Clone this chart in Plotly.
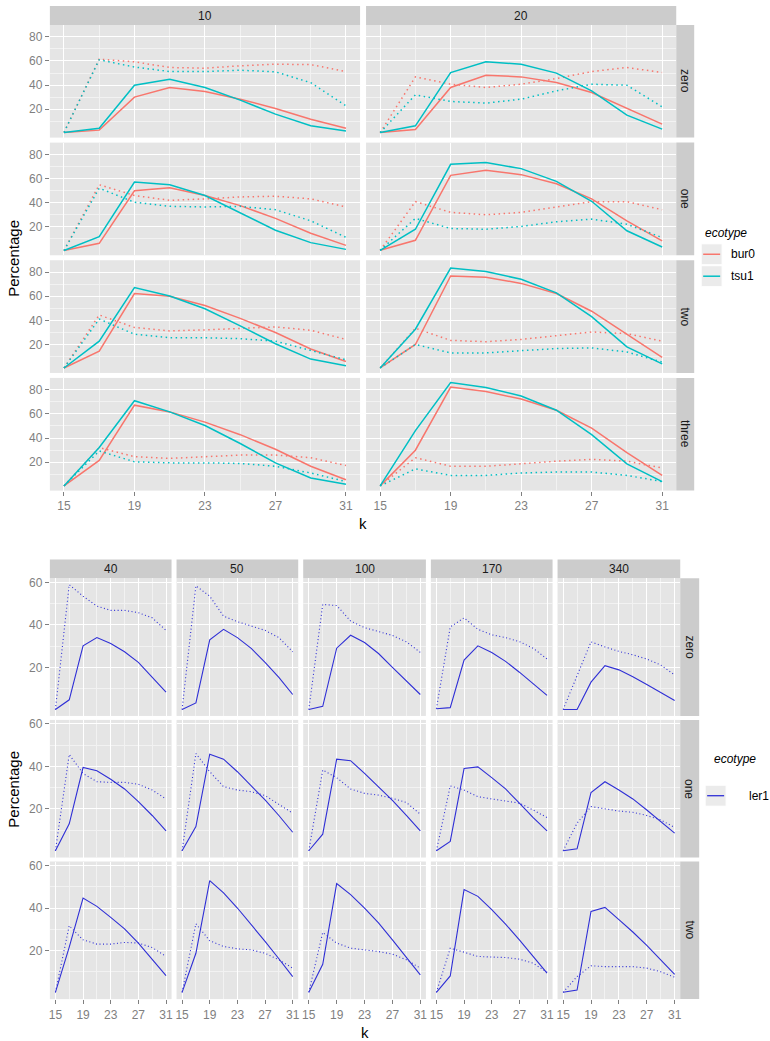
import plotly.graph_objects as go

W, H = 770, 1041

# ---------------- data ----------------
k_vals = [15, 17, 19, 21, 23, 25, 27, 29, 31]
x_ticks = [15, 19, 23, 27, 31]
x_minor = [17, 21, 25, 29]

top_cols = ["10", "20"]
top_rows = ["zero", "one", "two", "three"]
top_y_ticks = [20, 40, 60, 80]
top_y_minor = [10, 30, 50, 70, 90]

bot_cols = ["40", "50", "100", "170", "340"]
bot_rows = ["zero", "one", "two"]
bot_y_ticks = [20, 40, 60]
bot_y_minor = [10, 30, 50]

# top chart (rows: zero, one, two, three)
bur0_solid_10 = [
    [0.6, 2.6, 30.0, 38.0, 34.7, 28.3, 20.6, 11.7, 4.2],
    [0.3, 6.3, 49.9, 52.4, 46.0, 37.6, 27.0, 14.7, 4.6],
    [0.5, 14.4, 62.3, 60.0, 52.4, 41.7, 29.9, 16.3, 5.9],
    [0.3, 21.4, 67.3, 61.7, 53.2, 42.8, 30.7, 16.6, 5.4],
]
tsu1_solid_10 = [
    [0.6, 4.2, 39.9, 44.9, 38.0, 27.5, 15.9, 6.2, 1.8],
    [0.3, 11.9, 57.1, 54.9, 46.0, 31.4, 17.2, 6.9, 1.3],
    [0.5, 22.8, 67.3, 60.3, 49.6, 35.5, 20.6, 7.9, 2.3],
    [0.3, 32.1, 71.0, 61.7, 50.4, 35.5, 19.4, 6.8, 1.7],
]
bur0_dot_10 = [
    [0.6, 61.5, 59.3, 54.6, 54.0, 56.0, 57.3, 57.0, 51.2],
    [0.3, 54.9, 46.0, 42.0, 43.2, 44.8, 45.4, 43.2, 36.5],
    [0.5, 44.5, 34.1, 31.3, 32.1, 33.5, 34.6, 31.8, 24.2],
    [0.3, 32.1, 24.5, 23.1, 24.5, 25.9, 25.9, 23.7, 17.2],
]
tsu1_dot_10 = [
    [0.6, 61.0, 55.0, 51.2, 51.2, 52.3, 51.0, 42.0, 22.8],
    [0.3, 52.1, 40.4, 37.0, 36.5, 37.0, 34.2, 25.0, 11.3],
    [0.5, 41.1, 28.5, 25.6, 25.6, 24.8, 22.8, 14.9, 7.3],
    [0.3, 29.3, 20.3, 19.4, 19.4, 18.9, 16.6, 11.0, 3.9],
]
bur0_solid_20 = [
    [0.6, 3.1, 38.0, 48.2, 46.8, 42.1, 33.8, 20.6, 7.6],
    [0.5, 8.8, 62.7, 66.9, 63.3, 55.7, 43.2, 25.0, 8.3],
    [0.5, 20.0, 76.9, 75.8, 70.7, 62.3, 47.6, 28.5, 9.3],
    [0.3, 29.9, 82.3, 78.6, 72.4, 63.1, 48.2, 27.9, 9.0],
]
tsu1_solid_20 = [
    [0.6, 6.2, 50.4, 59.3, 57.3, 49.9, 35.2, 15.0, 3.4],
    [0.5, 18.0, 71.9, 73.3, 68.3, 57.7, 41.2, 16.7, 3.3],
    [0.5, 32.7, 83.4, 80.6, 74.1, 62.8, 43.1, 18.0, 3.9],
    [0.3, 46.2, 86.0, 82.0, 74.9, 63.1, 42.8, 18.6, 3.9],
]
bur0_dot_20 = [
    [0.6, 46.8, 40.7, 38.0, 40.7, 45.4, 51.2, 54.6, 50.4],
    [0.5, 40.9, 32.0, 30.0, 32.0, 36.7, 40.9, 40.9, 34.2],
    [0.5, 33.5, 23.4, 22.3, 24.2, 27.6, 30.4, 29.0, 22.8],
    [0.3, 23.7, 16.6, 16.6, 18.6, 20.8, 22.3, 20.8, 15.2],
]
tsu1_dot_20 = [
    [0.6, 31.9, 26.4, 25.0, 28.3, 35.2, 40.7, 39.9, 21.9],
    [0.5, 27.0, 18.6, 18.0, 20.3, 24.2, 26.4, 22.2, 11.1],
    [0.5, 20.0, 13.0, 13.0, 14.9, 16.6, 17.2, 13.8, 5.4],
    [0.3, 14.4, 9.0, 9.0, 11.0, 11.8, 11.8, 9.0, 3.9],
]

# bottom chart (rows: zero, one, two)
ler1_solid_40 = [
    [0.1, 4.7, 30.1, 34.0, 31.2, 27.3, 22.3, 15.3, 8.3],
    [0.3, 13.0, 39.5, 38.0, 34.0, 29.4, 23.4, 16.9, 9.7],
    [0.3, 21.6, 44.7, 40.8, 35.6, 30.2, 23.5, 15.6, 8.2],
]
ler1_dot_40 = [
    [0.1, 58.9, 53.5, 48.8, 46.8, 46.8, 45.7, 43.3, 37.4],
    [0.3, 45.6, 36.7, 32.8, 32.5, 32.5, 31.6, 28.9, 24.7],
    [0.3, 31.7, 25.0, 23.0, 23.0, 23.8, 23.5, 21.4, 17.2],
]
ler1_solid_50 = [
    [0.1, 3.2, 32.9, 37.9, 34.0, 28.9, 22.3, 15.3, 7.2],
    [0.3, 11.7, 45.8, 43.4, 37.5, 30.9, 24.2, 16.9, 9.0],
    [0.3, 18.7, 52.9, 47.1, 40.0, 32.4, 24.3, 16.1, 7.7],
]
ler1_dot_50 = [
    [0.1, 58.4, 53.5, 44.1, 41.5, 39.5, 37.4, 34.0, 27.3],
    [0.3, 46.1, 37.5, 30.5, 28.9, 28.1, 26.3, 22.2, 18.0],
    [0.3, 32.6, 24.6, 21.9, 20.8, 20.3, 18.7, 15.6, 11.7],
]
ler1_solid_100 = [
    [0.1, 1.6, 29.0, 35.1, 31.7, 26.5, 20.0, 13.7, 7.2],
    [0.3, 8.1, 43.4, 42.7, 36.7, 30.5, 24.0, 17.0, 9.7],
    [0.3, 13.5, 51.5, 46.3, 40.0, 33.0, 25.0, 16.7, 8.5],
]
ler1_dot_100 = [
    [0.1, 49.6, 49.1, 41.8, 38.7, 36.8, 35.0, 32.0, 27.0],
    [0.3, 38.3, 34.7, 29.4, 27.3, 26.5, 25.0, 23.0, 17.5],
    [0.3, 28.5, 23.5, 21.1, 20.3, 19.5, 18.3, 15.6, 11.7],
]
ler1_solid_170 = [
    [0.5, 1.0, 23.4, 30.1, 27.0, 22.8, 17.7, 12.2, 6.8],
    [0.3, 4.7, 39.0, 39.8, 34.7, 29.4, 22.7, 15.9, 9.7],
    [0.3, 8.0, 48.7, 45.5, 39.2, 32.4, 25.0, 17.2, 9.3],
]
ler1_dot_170 = [
    [0.5, 39.0, 43.3, 37.9, 35.3, 34.0, 32.1, 29.0, 23.9],
    [0.3, 30.8, 28.9, 25.8, 24.7, 23.8, 22.7, 19.5, 15.9],
    [0.3, 21.1, 19.2, 17.2, 16.9, 16.7, 15.9, 14.0, 9.8],
]
ler1_solid_340 = [
    [0.1, 0.1, 13.0, 20.8, 18.8, 15.6, 11.9, 8.3, 4.4],
    [0.3, 1.2, 27.7, 32.8, 28.9, 24.7, 19.5, 14.0, 8.6],
    [0.3, 1.4, 38.4, 40.3, 34.5, 28.7, 22.4, 15.6, 8.8],
]
ler1_dot_340 = [
    [0.1, 16.0, 32.0, 29.6, 27.5, 25.9, 23.9, 21.1, 16.4],
    [0.3, 13.3, 21.1, 20.0, 19.0, 18.4, 16.9, 14.8, 11.3],
    [0.3, 7.7, 12.8, 12.4, 12.4, 12.4, 11.7, 10.0, 7.4],
]

top_series = {
    "10": [("bur0", bur0_solid_10, "solid"), ("bur0", bur0_dot_10, "dot"),
           ("tsu1", tsu1_solid_10, "solid"), ("tsu1", tsu1_dot_10, "dot")],
    "20": [("bur0", bur0_solid_20, "solid"), ("bur0", bur0_dot_20, "dot"),
           ("tsu1", tsu1_solid_20, "solid"), ("tsu1", tsu1_dot_20, "dot")],
}
bot_series = {
    "40": [(ler1_solid_40, "solid"), (ler1_dot_40, "dot")],
    "50": [(ler1_solid_50, "solid"), (ler1_dot_50, "dot")],
    "100": [(ler1_solid_100, "solid"), (ler1_dot_100, "dot")],
    "170": [(ler1_solid_170, "solid"), (ler1_dot_170, "dot")],
    "340": [(ler1_solid_340, "solid"), (ler1_dot_340, "dot")],
}

# ---------------- styling ----------------
COLORS = {"bur0": "#F8766D", "tsu1": "#00BFC4", "ler1": "#2F2FD6"}
PANEL_BG = "#E5E5E5"
STRIP_BG = "#CCCCCC"
TICK_COL = "#7F7F7F"
TEXT_COL = "#1A1A1A"
FONT = "Liberation Sans, Arial, Helvetica, sans-serif"

top_col_px = [(49, 360), (366, 677)]
top_row_px = [(22, 135), (140, 253), (258, 371), (376, 489)]
top_strip_y = (3, 22)
top_rstrip_x = (677, 695)
top_yrange = [-3.6, 89.9]

bot_col_px = [(49, 171), (176, 298), (303, 426), (431, 553), (558, 681)]
bot_row_px = [(577, 715), (719, 857), (861, 999)]
bot_strip_y = (558, 577)
bot_rstrip_x = (681, 700)
bot_yrange = [-2.9, 61.9]
x_range = [14.2, 31.8]


def fx(p):
    return p / W


def fy(p):
    return 1 - p / H


fig = go.Figure()
layout_axes = {}
shapes = []
annotations = []
counter = [0]


def add_panel(xp, yp, yrange, yticks, yminor, show_x, show_y):
    counter[0] += 1
    n = "" if counter[0] == 1 else str(counter[0])
    tickfont = dict(family=FONT, size=12, color=TICK_COL)
    layout_axes["xaxis" + n] = dict(
        domain=[fx(xp[0]), fx(xp[1])], range=x_range, anchor="y" + n,
        tickvals=x_ticks, ticktext=[str(v) for v in x_ticks],
        showticklabels=show_x, ticks="outside" if show_x else "",
        ticklen=4, tickwidth=1, tickcolor=TICK_COL, tickfont=tickfont,
        showgrid=True, gridcolor="white", gridwidth=1.2,
        zeroline=False, showline=False, fixedrange=True,
        minor=dict(tickvals=x_minor, showgrid=True, gridcolor="#F2F2F2", gridwidth=0.6, ticks=""),
    )
    layout_axes["yaxis" + n] = dict(
        domain=[fy(yp[1]), fy(yp[0])], range=yrange, anchor="x" + n,
        tickvals=yticks, ticktext=[str(v) for v in yticks],
        showticklabels=show_y, ticks="outside" if show_y else "",
        ticklen=4, tickwidth=1, tickcolor=TICK_COL, tickfont=tickfont,
        showgrid=True, gridcolor="white", gridwidth=1.2,
        zeroline=False, showline=False, fixedrange=True,
        minor=dict(tickvals=yminor, showgrid=True, gridcolor="#F2F2F2", gridwidth=0.6, ticks=""),
    )
    return "x" + n, "y" + n


def strip_rect(x0, x1, y0, y1):
    shapes.append(dict(type="rect", xref="paper", yref="paper",
                       x0=fx(x0), x1=fx(x1), y0=fy(y1), y1=fy(y0),
                       fillcolor=STRIP_BG, line=dict(width=0), layer="below"))


def text(x, y, s, size=12, color=TEXT_COL, angle=0, xanchor="center", italic=False):
    annotations.append(dict(xref="paper", yref="paper", x=fx(x), y=fy(y), text=s,
                            showarrow=False, textangle=angle, xanchor=xanchor, yanchor="middle",
                            font=dict(family=FONT, size=size, color=color,
                                      style="italic" if italic else "normal")))


# ---------------- top chart ----------------
for ci, col in enumerate(top_cols):
    for ri, row in enumerate(top_rows):
        xa, ya = add_panel(top_col_px[ci], top_row_px[ri], top_yrange, top_y_ticks, top_y_minor,
                           show_x=(ri == len(top_rows) - 1), show_y=(ci == 0))
        for eco, arr, style in top_series[col]:
            fig.add_trace(go.Scatter(
                x=k_vals, y=arr[ri], mode="lines", xaxis=xa, yaxis=ya,
                line=dict(color=COLORS[eco], width=1.5,
                          dash="solid" if style == "solid" else "1.5px,3.5px"),
                showlegend=False, hoverinfo="skip"))
    x0, x1 = top_col_px[ci]
    strip_rect(x0, x1, *top_strip_y)
    text((x0 + x1) / 2, sum(top_strip_y) / 2 + 0.5, col)
for ri, row in enumerate(top_rows):
    y0, y1 = top_row_px[ri]
    strip_rect(top_rstrip_x[0], top_rstrip_x[1], y0, y1)
    text(sum(top_rstrip_x) / 2, (y0 + y1) / 2, row, angle=90)

text(13, (top_row_px[0][0] + top_row_px[-1][1]) / 2, "Percentage", size=15, color="black", angle=-90)
text((top_col_px[0][0] + top_col_px[-1][1]) / 2, 522, "k", size=15, color="black")

# top legend
text(704, 231, "ecotype", size=12, color="black", xanchor="left", italic=True)
for i, eco in enumerate(["bur0", "tsu1"]):
    yc = 252 + i * 22
    shapes.append(dict(type="rect", xref="paper", yref="paper", x0=fx(702), x1=fx(723),
                       y0=fy(yc + 10.5), y1=fy(yc - 10.5), fillcolor="#EBEBEB",
                       line=dict(color="white", width=1)))
    shapes.append(dict(type="line", xref="paper", yref="paper", x0=fx(704), x1=fx(721),
                       y0=fy(yc), y1=fy(yc), line=dict(color=COLORS[eco], width=1.5)))
    text(730, yc, eco, size=12, color="black", xanchor="left")

# ---------------- bottom chart ----------------
for ci, col in enumerate(bot_cols):
    for ri, row in enumerate(bot_rows):
        xa, ya = add_panel(bot_col_px[ci], bot_row_px[ri], bot_yrange, bot_y_ticks, bot_y_minor,
                           show_x=(ri == len(bot_rows) - 1), show_y=(ci == 0))
        for arr, style in bot_series[col]:
            fig.add_trace(go.Scatter(
                x=k_vals, y=arr[ri], mode="lines", xaxis=xa, yaxis=ya,
                line=dict(color=COLORS["ler1"], width=1.1,
                          dash="solid" if style == "solid" else "1px,2.5px"),
                showlegend=False, hoverinfo="skip"))
    x0, x1 = bot_col_px[ci]
    strip_rect(x0, x1, *bot_strip_y)
    text((x0 + x1) / 2, sum(bot_strip_y) / 2 + 0.5, col)
for ri, row in enumerate(bot_rows):
    y0, y1 = bot_row_px[ri]
    strip_rect(bot_rstrip_x[0], bot_rstrip_x[1], y0, y1)
    text(sum(bot_rstrip_x) / 2, (y0 + y1) / 2, row, angle=90)

text(13, (bot_row_px[0][0] + bot_row_px[-1][1]) / 2, "Percentage", size=15, color="black", angle=-90)
text((bot_col_px[0][0] + bot_col_px[-1][1]) / 2, 1032, "k", size=15, color="black")

# bottom legend
text(713, 758, "ecotype", size=12, color="black", xanchor="left", italic=True)
shapes.append(dict(type="rect", xref="paper", yref="paper", x0=fx(706), x1=fx(727),
                   y0=fy(805.5), y1=fy(784.5), fillcolor="#EBEBEB", line=dict(color="white", width=1)))
shapes.append(dict(type="line", xref="paper", yref="paper", x0=fx(708), x1=fx(725),
                   y0=fy(795), y1=fy(795), line=dict(color=COLORS["ler1"], width=1.3)))
text(748, 795, "ler1", size=12, color="black", xanchor="left")

fig.update_layout(
    width=W, height=H, autosize=False,
    margin=dict(l=0, r=0, t=0, b=0, pad=0),
    paper_bgcolor="white", plot_bgcolor=PANEL_BG,
    font=dict(family=FONT, size=12, color=TEXT_COL),
    showlegend=False, shapes=shapes, annotations=annotations,
    **layout_axes,
)

fig.write_html("out.html", config={"displayModeBar": False},
               post_script="document.body.style.margin='0';document.body.style.overflow='hidden';")
